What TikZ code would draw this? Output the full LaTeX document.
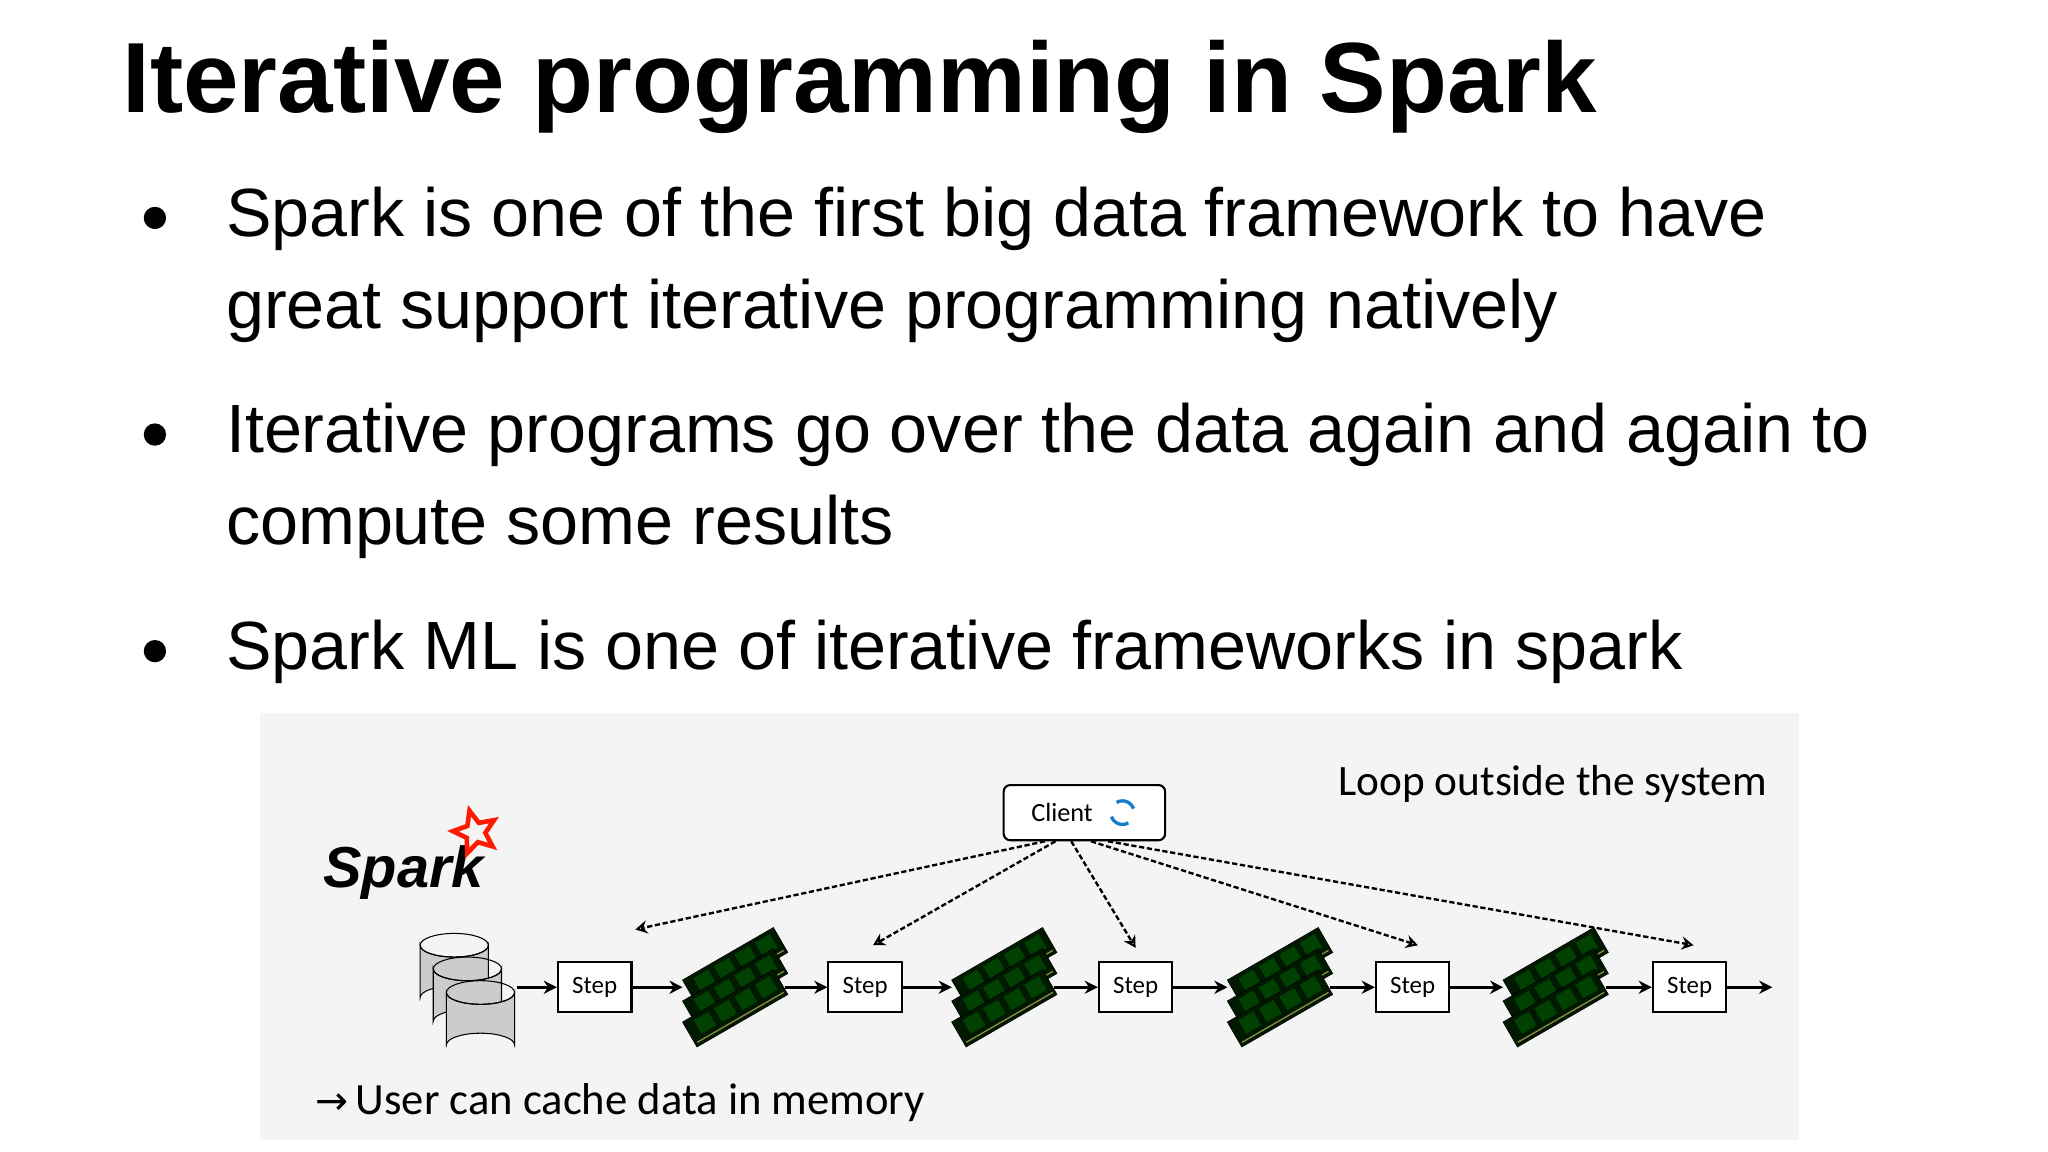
\documentclass[tikz,border=0pt]{standalone}
\usepackage{fontspec}
\setmainfont{Liberation Sans}
\newfontfamily\carl{Carlito}
\newfontfamily\djv{DejaVu Sans}
\usetikzlibrary{arrows.meta,shapes.geometric}
\begin{document}
\begin{tikzpicture}[x=1pt,y=-1pt,
  stepbox/.style={draw,line width=1.6pt,fill=white,minimum width=56pt,minimum height=38pt,inner sep=0pt,font=\carl\fontsize{19}{19}\selectfont},
  flow/.style={-{Stealth[length=10pt,width=10pt]},line width=2.6pt},
  dsh/.style={-{Stealth[length=9pt,width=10pt,open]},line width=1.8pt,dash pattern=on 4pt off 2pt},
  btxt/.style={anchor=base west,font=\fontsize{52}{52}\selectfont,inner sep=0pt}]
\useasboundingbox (0,0) rectangle (1560,877.5);
\fill[white] (0,0) rectangle (1560,877.5);
\node[anchor=base west,inner sep=0pt,font=\bfseries\fontsize{76}{76}\selectfont] (title) at (93,86) {Iterative programming in Spark};
\foreach \y/\n in {182/b1,347/b2,512/b3}{\fill (118,\y-16) circle (8.5pt);}
\node[btxt] (l1) at (172,180) {Spark is one of the first big data framework to have};
\node[btxt] (l2) at (172,250) {great support iterative programming natively};
\node[btxt] (l3) at (172,345) {Iterative programs go over the data again and again to};
\node[btxt] (l4) at (172,415) {compute some results};
\node[btxt] (l5) at (172,510) {Spark ML is one of iterative frameworks in spark};
% panel
\fill[gray!9] (198,543) rectangle (1370,868);
\node[anchor=base east,inner sep=0pt,font=\carl\fontsize{33}{33}\selectfont] (loop) at (1346,606) {Loop outside the system};
\node[draw,line width=1.6pt,rounded corners=5pt,fill=white,minimum width=123pt,minimum height=42pt,font=\carl\fontsize{20}{20}\selectfont,align=left] (client) at (826,619) {Client\hspace{34pt}};
\draw[cyan!60!blue,line width=2.5pt] (855,619) ++(60:9) arc (60:160:9) (855,619) ++(240:9) arc (240:340:9);
% spark logo
\node[anchor=base west,inner sep=0pt,font=\bfseries\itshape\fontsize{44}{44}\selectfont] (spark) at (246,676) {Spark};
\node[star,star points=5,star point ratio=2.2,draw=red!80!orange,line width=3.5pt,minimum size=34pt,inner sep=0pt,rotate=15] (star) at (362,634) {};
% database
\foreach \dx/\dy in {0/0,10/18,20/36}{
  \fill[gray!40,draw=black,thick] (320+\dx,720+\dy) -- (320+\dx,760+\dy) arc (180:360:26 and 9) -- (372+\dx,720+\dy) arc (0:180:26 and 9) -- cycle;
  \draw[thick] (346+\dx,720+\dy) ellipse (26 and 9);
}
\coordinate (db) at (394,752);
% steps
\foreach \i/\x in {1/453,2/659,3/865,4/1076,5/1287}{\node[stepbox] (s\i) at (\x,752) {Step};}
% memory chips
\foreach \i/\x in {1/560,2/765,3/975,4/1185}{
  \foreach \dy in {-4,12,28}{
    \begin{scope}[shift={(\x,740+\dy)},rotate=30]
      \fill[green!10!black,draw=black] (-40,-11) rectangle (40,11);
      \foreach \k in {-32,-14,4,22}{\fill[green!25!black] (\k,-8) rectangle (\k+13,4);}
      \draw[yellow!50!black,line width=1pt] (-38,8) -- (38,8);
    \end{scope}}
  \coordinate (ml\i) at (\x-40,752);
  \coordinate (mr\i) at (\x+38,752);
}
\coordinate (out) at (1350,752);
\draw[flow] (db) -- (s1);
\draw[flow] (s1) -- (ml1); \draw[flow] (mr1) -- (s2);
\draw[flow] (s2) -- (ml2); \draw[flow] (mr2) -- (s3);
\draw[flow] (s3) -- (ml3); \draw[flow] (mr3) -- (s4);
\draw[flow] (s4) -- (ml4); \draw[flow] (mr4) -- (s5);
\draw[flow] (s5) -- (out);
% dashed
\coordinate (t1) at (484,708); \coordinate (t2) at (665,720); \coordinate (t3) at (865,722); \coordinate (t4) at (1080,720); \coordinate (t5) at (1290,720);
\draw[dsh] ([xshift=-30pt]client.south) -- (t1);
\draw[dsh] ([xshift=-22pt]client.south) -- (t2);
\draw[dsh] ([xshift=-10pt]client.south) -- (t3);
\draw[dsh] ([xshift=5pt]client.south) -- (t4);
\draw[dsh] ([xshift=18pt]client.south) -- (t5);
\node[anchor=base west,inner sep=0pt,font=\carl\fontsize{34}{34}\selectfont] (cache) at (240,849) {{\djv\fontsize{30}{30}\selectfont →}\,User can cache data in memory};
\end{tikzpicture}
\end{document}
